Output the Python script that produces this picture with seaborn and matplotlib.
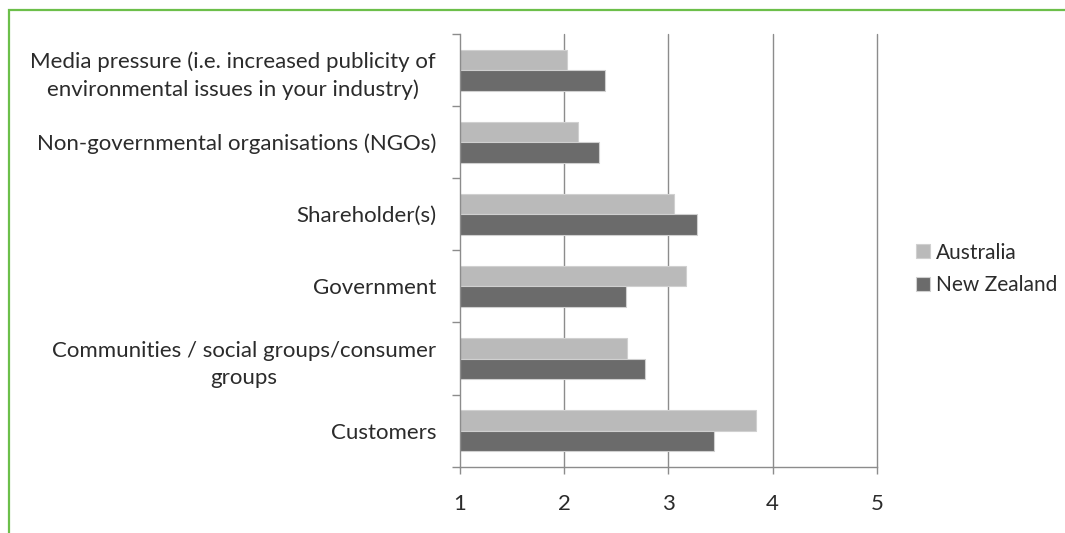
import matplotlib
matplotlib.use("Agg")
import matplotlib.pyplot as plt
import matplotlib.patches as mpatches
import numpy as np
import pandas as pd
import seaborn as sns

categories = [
    "Media pressure (i.e. increased publicity of\nenvironmental issues in your industry)",
    "Non-governmental organisations (NGOs)",
    "Shareholder(s)",
    "Government",
    "Communities / social groups/consumer\ngroups",
    "Customers",
]
australia = [2.03, 2.13, 3.05, 3.17, 2.60, 3.84]
new_zealand = [2.39, 2.34, 3.27, 2.59, 2.78, 3.44]
series_names = ["Australia", "New Zealand"]
x_ticks = [1, 2, 3, 4, 5]

df = pd.DataFrame({
    "Driver": categories * 2,
    "Country": [series_names[0]] * len(categories) + [series_names[1]] * len(categories),
    "Score": australia + new_zealand,
})

sns.set_theme(style="white")
plt.rcParams["font.family"] = ["Lato", "DejaVu Sans"]

W, H = 1065, 533
fig = plt.figure(figsize=(W / 100, H / 100), dpi=100)
ax = fig.add_axes([459.7 / W, 1 - 466.7 / H, (877 - 459.7) / W, (466.7 - 34) / H])

palette = {"Australia": "#BABABA", "New Zealand": "#6B6B6B"}
sns.barplot(data=df, y="Driver", x="Score", hue="Country", order=categories,
            hue_order=series_names, palette=palette, orient="h", width=0.57,
            saturation=1, edgecolor="#D0D0D0", linewidth=0.8, ax=ax, legend=True)

grid_c = "#8C8C8C"
text_c = "#2B2B2B"
ax.set_xlim(1, 5)
ax.set_ylim(len(categories) - 0.5, -0.5)
ax.set_xticks(x_ticks)
ax.set_xticklabels([str(t) for t in x_ticks], fontsize=16, color=text_c)
for t in x_ticks[1:]:
    ax.axvline(t, color=grid_c, lw=1.0, zorder=0, clip_on=False)
ax.set_xlabel("")
ax.set_ylabel("")

for s in ["top", "right"]:
    ax.spines[s].set_visible(False)
for s in ["left", "bottom"]:
    ax.spines[s].set_color(grid_c)
    ax.spines[s].set_linewidth(1.0)

ax.tick_params(axis="x", length=5, width=1.0, color=grid_c, pad=15, direction="out", bottom=True)
ax.tick_params(axis="y", which="major", length=0, pad=17, left=True)
ax.set_yticks(np.arange(len(categories) + 1) - 0.5, minor=True)
ax.tick_params(axis="y", which="minor", length=6, width=1.0, color=grid_c, direction="out", left=True)
for lab in ax.get_yticklabels():
    lab.set_fontsize(16)
    lab.set_color(text_c)
    lab.set_multialignment("center")
    lab.set_linespacing(1.45)

handles, labels = ax.get_legend_handles_labels()
ax.legend(handles, labels, loc="center left", bbox_to_anchor=(916 / W, 1 - 269 / H),
          bbox_transform=fig.transFigure, frameon=False, fontsize=15,
          handlelength=0.65, handleheight=0.65, handletextpad=0.3, labelspacing=0.6,
          labelcolor=text_c, borderaxespad=0, borderpad=0)

border = mpatches.Rectangle((9 / W, -0.1), 1.2, 1 - 10 / H + 0.1, transform=fig.transFigure,
                            fill=False, edgecolor="#6CBF4A", linewidth=1.6, clip_on=False)
fig.patches.append(border)

fig.savefig("out.png", dpi=100)
